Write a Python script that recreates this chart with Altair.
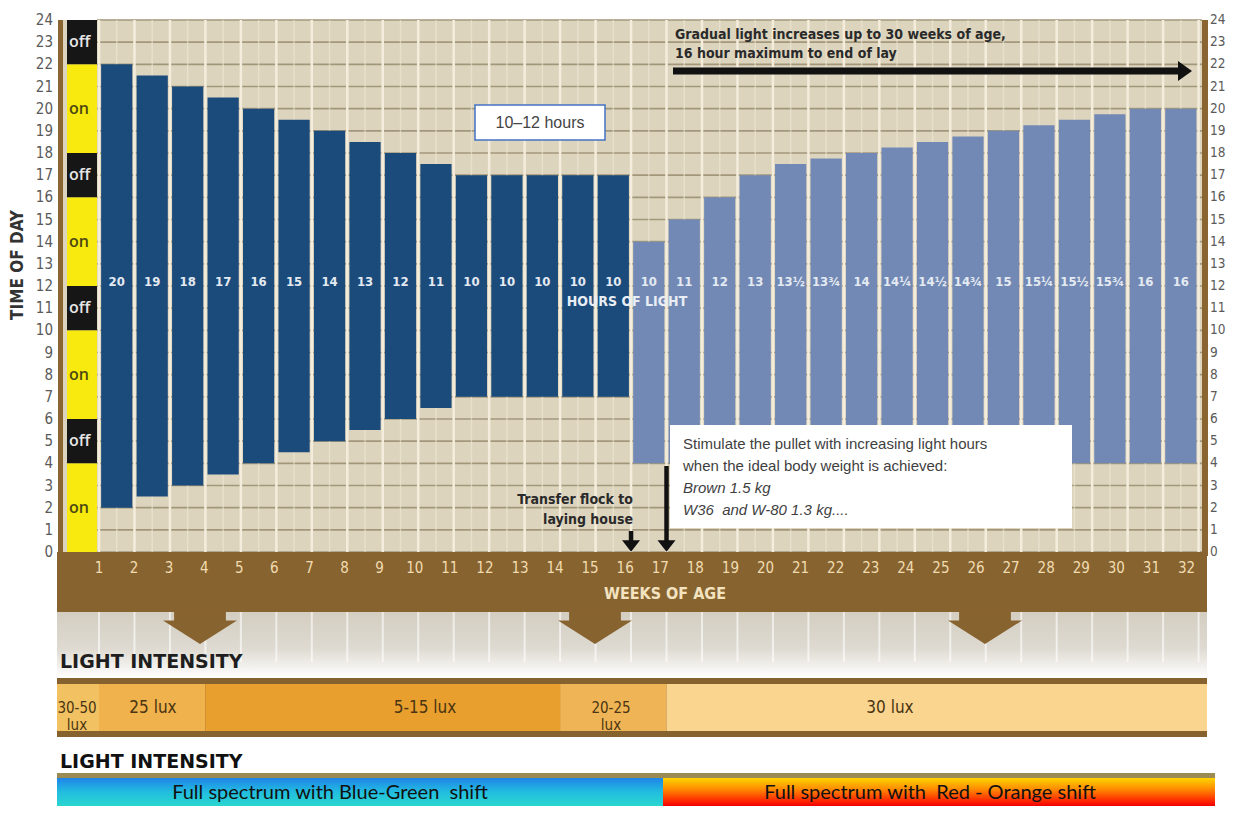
import altair as alt
import pandas as pd

# ---------------- data ----------------
weeks = list(range(1, 33))
bar_weeks = list(range(1, 32))
lights_on = [2, 2.5, 3, 3.5, 4, 4.5, 5, 5.5, 6, 6.5, 7, 7, 7, 7, 7,
             4, 4, 4, 4, 4, 4, 4, 4, 4, 4, 4, 4, 4, 4, 4, 4]
lights_off = [22, 21.5, 21, 20.5, 20, 19.5, 19, 18.5, 18, 17.5, 17, 17, 17, 17, 17,
              14, 15, 16, 17, 17.5, 17.75, 18, 18.25, 18.5, 18.75, 19, 19.25, 19.5, 19.75, 20, 20]
hours_of_light = ["20", "19", "18", "17", "16", "15", "14", "13", "12", "11", "10", "10", "10", "10", "10",
                  "10", "11", "12", "13", "13½", "13¾", "14", "14¼", "14½", "14¾", "15", "15¼", "15½", "15¾", "16", "16"]
phase = ["rearing"] * 15 + ["laying"] * 16
hours = list(range(0, 25))
sched_start = [0, 4, 6, 10, 12, 16, 18, 22]
sched_end = [4, 6, 10, 12, 16, 18, 22, 24]
sched_state = ["on", "off", "on", "off", "on", "off", "on", "off"]
lux_from = [0, 1, 4, 14, 17]
lux_to = [1, 4, 14, 17, 32]
lux_label = ["30-50\nlux", "25 lux", "5-15 lux", "20-25\nlux", "30 lux"]
lux_color = ["#f2c262", "#efb24d", "#e89f2e", "#efb455", "#f9d590"]
transfer_week = 16
stimulate_week = 17

# ---------------- layout ----------------
PX0, PY0 = 57, 8          # page position of the plot origin
PITCH = 35.47             # pixels per week


def vx(x):
    return x - PX0


def vy(y):
    return y - PY0


def wk(px):
    return (px - 99) / PITCH + 1


xs = alt.Scale(domain=[1, 32], range=[vx(99), vx(99 + 31 * PITCH)], nice=False, zero=False)
ys = alt.Scale(domain=[0, 24], range=[vy(552), vy(20)], nice=False, zero=False)

COND = "DejaVu Sans Condensed, Liberation Sans Narrow, Roboto Condensed, sans-serif"
ARIAL = "Liberation Sans, Arial, sans-serif"

one = pd.DataFrame({"k": [0]})


def box(x0, x1, y0, y1, **kw):
    return alt.Chart(one).mark_rect(**kw).encode(
        x=alt.value(vx(x0)), x2=alt.value(vx(x1)), y=alt.value(vy(y0)), y2=alt.value(vy(y1)))


def label(x, y, text, **kw):
    kw.setdefault("baseline", "middle")
    return alt.Chart(one).mark_text(text=text, **kw).encode(x=alt.value(vx(x)), y=alt.value(vy(y)))


weeks_df = pd.DataFrame({"w": weeks, "lab": [str(w) for w in weeks]})
half_df = pd.DataFrame({"w": [w + 0.5 for w in bar_weeks]})
hours_df = pd.DataFrame({"h": hours, "lab": [str(h) for h in hours]})
bars_df = pd.DataFrame({"week": bar_weeks, "on": lights_on, "off": lights_off,
                        "label": hours_of_light, "phase": phase})
sched_df = pd.DataFrame({"s": sched_start, "e": sched_end, "state": sched_state})
lux_df = pd.DataFrame({"a": lux_from, "b": lux_to, "label": lux_label, "c": lux_color})
lux_df["x0"] = lux_df["a"].astype(float)
lux_df["x1"] = lux_df["b"].astype(float)
lux_df.loc[0, "x0"] = wk(57)
lux_df.loc[len(lux_df) - 1, "x1"] = wk(1207)
lux_df["lx"] = [wk(p) for p in [77, 153, 425, 611, 890]]
lux_df["fs"] = [15, 17, 17, 15, 17]

layers = []

# plot background and grid
layers.append(box(63, 1202, 20, 552, color="#ddd4be"))
layers.append(alt.Chart(hours_df).mark_rule(color="#a3977b", strokeWidth=1.6).encode(
    y=alt.Y("h:Q", scale=ys, axis=None), x=alt.value(vx(97)), x2=alt.value(vx(1202))))
layers.append(alt.Chart(half_df).mark_rule(color="#efe7d3", strokeWidth=1.5, opacity=0.6).encode(
    x=alt.X("w:Q", scale=xs, axis=None), y=alt.value(vy(20)), y2=alt.value(vy(552))))
layers.append(alt.Chart(weeks_df).mark_rule(color="#f4eddc", strokeWidth=2.5).encode(
    x=alt.X("w:Q", scale=xs, axis=None), y=alt.value(vy(20)), y2=alt.value(vy(552))))

# on / off column
layers.append(alt.Chart(sched_df).mark_rect().encode(
    x=alt.value(vx(67)), x2=alt.value(vx(97)),
    y=alt.Y("s:Q", scale=ys, axis=None), y2="e:Q",
    color=alt.condition("datum.state == 'on'", alt.value("#f8ea0e"), alt.value("#161616"))))
layers.append(alt.Chart(sched_df).transform_calculate(m="(datum.s + datum.e) / 2").mark_text(
    align="left", baseline="middle", font="Open Sans", fontWeight=600, fontSize=16).encode(
    x=alt.value(vx(69)), y=alt.Y("m:Q", scale=ys, axis=None), text="state:N",
    color=alt.condition("datum.state == 'on'", alt.value("#4d4812"), alt.value("#e6e6e6"))))

# bars
layers.append(alt.Chart(bars_df).transform_calculate(
    x0="datum.week + 0.06", x1="datum.week + 0.94").mark_rect().encode(
    x=alt.X("x0:Q", scale=xs, axis=None), x2="x1:Q",
    y=alt.Y("on:Q", scale=ys, axis=None), y2="off:Q",
    color=alt.condition("datum.phase == 'rearing'", alt.value("#1b4b7b"), alt.value("#7289b5"))))
layers.append(alt.Chart(bars_df).transform_calculate(xc="datum.week + 0.5").mark_text(
    font=COND, fontWeight="bold", fontSize=13, color="#e4eaf2", baseline="middle").encode(
    x=alt.X("xc:Q", scale=xs, axis=None), y=alt.value(vy(282)), text="label:N"))
layers.append(label(627, 302, "HOURS OF LIGHT", font=COND, fontWeight="bold", fontSize=14,
                    color="#e9eef5", align="center"))

# frame lines
layers.append(box(58, 63, 20, 556, color="#8a6531"))
layers.append(box(1202, 1208, 20, 556, color="#8a6531"))

# weeks band
layers.append(box(57, 1207, 552, 612, color="#876330"))
layers.append(alt.Chart(weeks_df).transform_calculate(
    wl="datum.w - (datum.w - 1) * 0.011").mark_text(font=COND, fontSize=15, color="#f1dcb0",
                                                   baseline="middle").encode(
    x=alt.X("wl:Q", scale=xs, axis=None), y=alt.value(vy(568)), text="lab:N"))
layers.append(label(665, 594, "WEEKS OF AGE", font=COND, fontWeight="bold", fontSize=16,
                    color="#f3e3c0", align="center"))

# grey fade under the band
layers.append(box(57, 1207, 612, 678, color=alt.LinearGradient(
    gradient="linear", x1=0, x2=0, y1=0, y2=1,
    stops=[alt.GradientStop(color="#d4cec1", offset=0), alt.GradientStop(color="#dedad1", offset=0.55),
           alt.GradientStop(color="#ffffff", offset=1)])))
layers.append(alt.Chart(weeks_df).mark_rule(color="#ffffff", strokeWidth=2, opacity=0.6).encode(
    x=alt.X("w:Q", scale=xs, axis=None), y=alt.value(vy(612)), y2=alt.value(vy(662))))

ARROW = "M-0.7,-0.5 L0.7,-0.5 L0.7,-0.2 L1,-0.2 L0,0.43 L-1,-0.2 L-0.7,-0.2 Z"
for ax in [200, 595, 985]:
    layers.append(alt.Chart(one).mark_point(shape=ARROW, size=74 * 74, filled=True, opacity=1,
                                            color="#876330", strokeWidth=0).encode(
        x=alt.value(vx(ax)), y=alt.value(vy(628))))

layers.append(label(60, 662, "LIGHT INTENSITY", font="DejaVu Sans", fontWeight="bold", fontSize=19,
                    color="#1e1e1e", align="left"))

# light intensity band
layers.append(box(57, 1207, 678, 737, color="#86622f"))
layers.append(alt.Chart(lux_df).mark_rect().encode(
    x=alt.X("x0:Q", scale=xs, axis=None), x2="x1:Q",
    y=alt.value(vy(684)), y2=alt.value(vy(731)),
    color=alt.Color("c:N", scale=None)))
layers.append(alt.Chart(lux_df).mark_text(font=COND, color="#4a3412", lineBreak="\n",
                                          lineHeight=17, baseline="middle").encode(
    x=alt.X("lx:Q", scale=xs, axis=None), y=alt.value(vy(708)), text="label:N",
    size=alt.Size("fs:Q", scale=None)))

layers.append(label(60, 762, "LIGHT INTENSITY", font="DejaVu Sans", fontWeight="bold", fontSize=19,
                    color="#111111", align="left"))

# spectrum band
layers.append(box(57, 1215, 773, 778, color="#9a8b55"))
layers.append(box(57, 663, 778, 806, color=alt.LinearGradient(
    gradient="linear", x1=0, x2=0, y1=0, y2=1,
    stops=[alt.GradientStop(color="#1f84e8", offset=0), alt.GradientStop(color="#22bde0", offset=0.5),
           alt.GradientStop(color="#2ad6cf", offset=1)])))
layers.append(box(663, 1215, 778, 806, color=alt.LinearGradient(
    gradient="linear", x1=0, x2=0, y1=0, y2=1,
    stops=[alt.GradientStop(color="#ffd500", offset=0), alt.GradientStop(color="#ff8a00", offset=0.4),
           alt.GradientStop(color="#ff2a00", offset=0.8), alt.GradientStop(color="#f00000", offset=1)])))
layers.append(label(330, 793, "Full spectrum with Blue-Green\u00a0 shift", font="Lato", fontSize=20,
                    color="#111111", align="center"))
layers.append(label(930, 793, "Full spectrum with\u00a0 Red - Orange shift", font="Lato", fontSize=20,
                    color="#111111", align="center"))

# annotations
layers.append(box(475, 605, 105, 140, color="#ffffff", stroke="#4472c4", strokeWidth=1.5))
layers.append(label(540, 123, "10–12 hours", font=ARIAL, fontSize=16, color="#444444", align="center"))

layers.append(label(675, 35, "Gradual light increases up to 30 weeks of age,", font=COND,
                    fontWeight="bold", fontSize=14, color="#2a2a2a", align="left"))
layers.append(label(675, 54, "16 hour maximum to end of lay", font=COND,
                    fontWeight="bold", fontSize=14, color="#2a2a2a", align="left"))
layers.append(alt.Chart(one).mark_rule(color="#111111", strokeWidth=7).encode(
    x=alt.value(vx(673)), x2=alt.value(vx(1180)), y=alt.value(vy(71))))
layers.append(alt.Chart(one).mark_point(shape="M-0.6,-1 L0.8,0 L-0.6,1 Z", size=20 * 20, filled=True,
                                        opacity=1, color="#111111", strokeWidth=0).encode(
    x=alt.value(vx(1184)), y=alt.value(vy(71))))

layers.append(label(633, 500, "Transfer flock to", font=COND, fontWeight="bold", fontSize=14,
                    color="#2a2a2a", align="right"))
layers.append(label(633, 520, "laying house", font=COND, fontWeight="bold", fontSize=14,
                    color="#2a2a2a", align="right"))

HEAD = "M-1,-0.65 L1,-0.65 L0,0.65 Z"
layers.append(alt.Chart(one).mark_rule(color="#111111", strokeWidth=4.5).encode(
    x=alt.XDatum(transfer_week, scale=xs), y=alt.value(vy(531)), y2=alt.value(vy(542))))
layers.append(alt.Chart(one).mark_point(shape=HEAD, size=18 * 18, filled=True, opacity=1,
                                        color="#111111", strokeWidth=0).encode(
    x=alt.XDatum(transfer_week, scale=xs), y=alt.value(vy(546))))
layers.append(alt.Chart(one).mark_rule(color="#111111", strokeWidth=4.5).encode(
    x=alt.XDatum(stimulate_week, scale=xs), y=alt.value(vy(466)), y2=alt.value(vy(542))))
layers.append(alt.Chart(one).mark_point(shape=HEAD, size=18 * 18, filled=True, opacity=1,
                                        color="#111111", strokeWidth=0).encode(
    x=alt.XDatum(stimulate_week, scale=xs), y=alt.value(vy(546))))

layers.append(box(670, 1072, 425, 528, color="#ffffff"))
for yy, txt, st in [(444, "Stimulate the pullet with increasing light hours", "normal"),
                    (466, "when the ideal body weight is achieved:", "normal"),
                    (488, "Brown 1.5 kg", "italic"),
                    (510, "W36\u00a0 and W-80 1.3 kg....", "italic")]:
    layers.append(label(683, yy, txt, font=ARIAL, fontSize=15, color="#3f3f3f", align="left",
                        fontStyle=st))

# hour labels (left and right) and axis title
layers.append(alt.Chart(hours_df).mark_text(align="right", baseline="middle", font=COND, fontSize=15,
                                            color="#5a5a5a").encode(
    y=alt.Y("h:Q", scale=ys, axis=None), x=alt.value(vx(53)), text="lab:N"))
layers.append(alt.Chart(hours_df).mark_text(align="left", baseline="middle", font=COND, fontSize=13.5,
                                            color="#5a5a5a").encode(
    y=alt.Y("h:Q", scale=ys, axis=None), x=alt.value(vx(1210)), text="lab:N"))
layers.append(label(18, 265, "TIME OF DAY", font=COND, fontWeight="bold", fontSize=17,
                    color="#333333", align="center", angle=270))

chart = alt.layer(*layers).properties(
    width=1170, height=798,
    autosize=alt.AutoSizeParams(type="none"),
    padding={"left": 49, "top": 0, "right": 0, "bottom": 0},
    background="#ffffff",
).configure_view(stroke=None)

chart.save("out.html", embed_options={"renderer": "svg", "actions": False})
